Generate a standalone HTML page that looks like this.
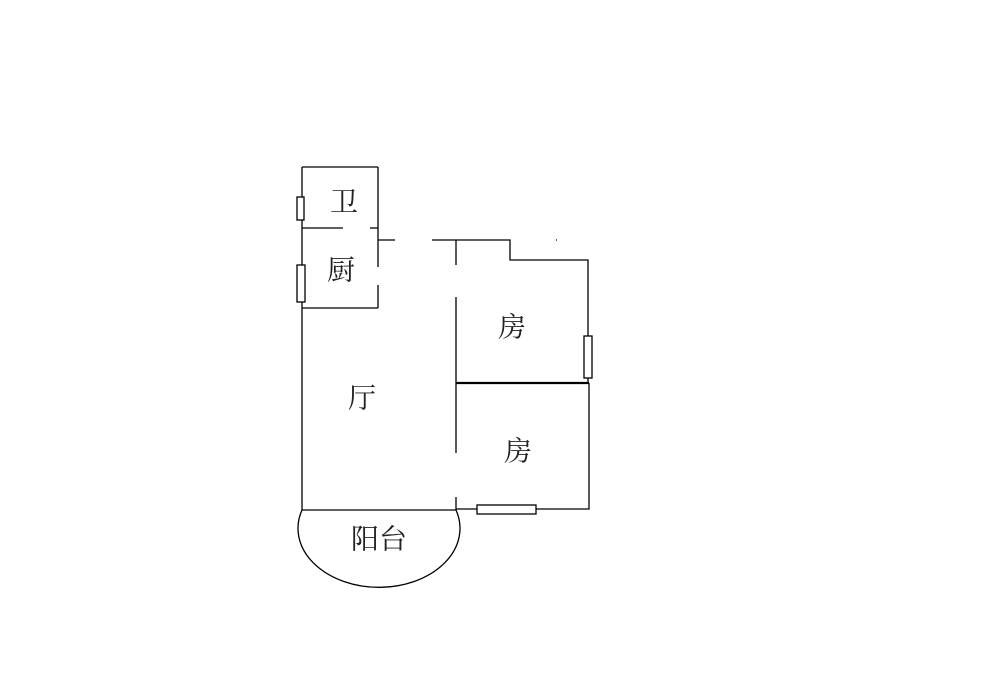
<!DOCTYPE html>
<html><head><meta charset="utf-8"><style>
html,body{margin:0;padding:0;background:#fff;}
svg{display:block}
text{font-family:"Liberation Serif","Noto Serif CJK SC",serif;font-size:28px;fill:#222;text-anchor:middle;dominant-baseline:central;}
</style></head><body>
<svg width="1000" height="673" viewBox="0 0 1000 673">
<g stroke="#000" stroke-width="1.3" fill="none">
<line x1="302" y1="167" x2="302" y2="510"/>
<line x1="302" y1="167" x2="378" y2="167"/>
<line x1="378" y1="167" x2="378" y2="228"/>
<line x1="302" y1="228" x2="343" y2="228"/>
<line x1="370" y1="228" x2="378" y2="228"/>
<line x1="378" y1="228" x2="378" y2="267"/>
<line x1="378" y1="285" x2="378" y2="308"/>
<line x1="302" y1="308" x2="378" y2="308"/>
<line x1="378" y1="240" x2="395" y2="240"/>
<polyline points="432,240 510,240 510,260 588,260 588,383"/>
<line x1="556" y1="240" x2="557" y2="240"/>
<line x1="456" y1="240" x2="456" y2="265"/>
<line x1="456" y1="297" x2="456" y2="453"/>
<line x1="456" y1="497" x2="456" y2="510"/>
<line x1="456" y1="383" x2="589" y2="383" stroke-width="2.2"/>
<polyline points="589,383 589,509 456,509"/>
<line x1="302" y1="510" x2="456" y2="510"/>
<path d="M302,510 A81,59 0 1,0 456,510"/>
<rect x="297" y="197" width="7" height="23" fill="#fff"/>
<rect x="297" y="265" width="8" height="37" fill="#fff"/>
<rect x="584" y="336" width="8" height="42" fill="#fff"/>
<rect x="477" y="505" width="59" height="9" fill="#fff"/>
</g>
<text x="344" y="203">卫</text>
<text x="341" y="271">厨</text>
<text x="512" y="328">房</text>
<text x="362" y="399">厅</text>
<text x="518" y="452">房</text>
<text x="379" y="540">阳台</text>
</svg>
</body></html>
